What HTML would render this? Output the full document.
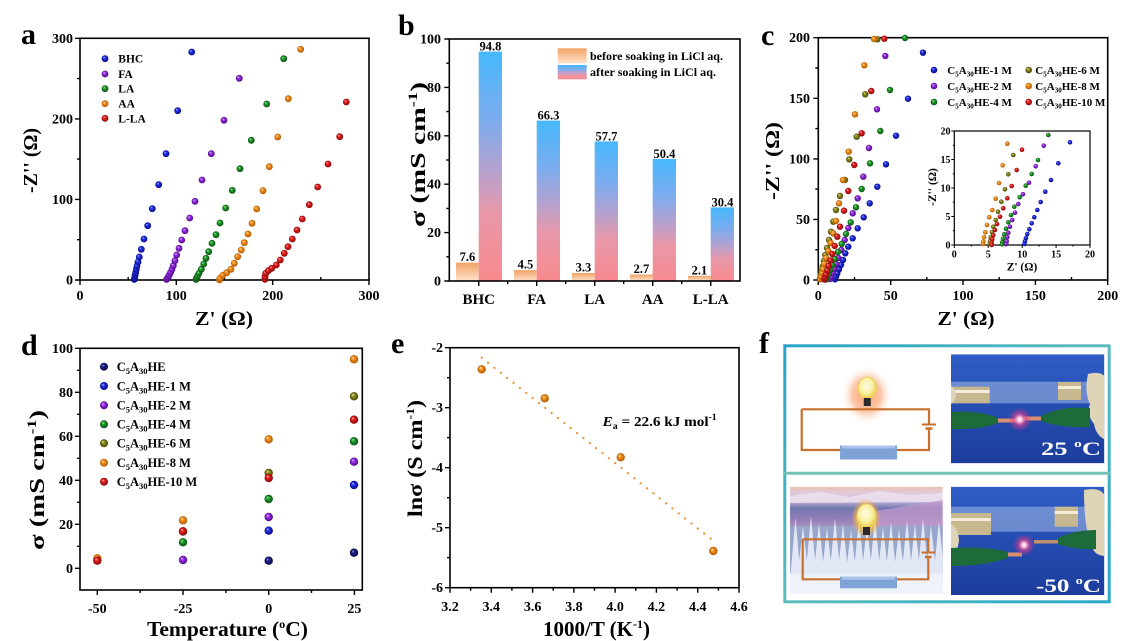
<!DOCTYPE html>
<html><head><meta charset="utf-8"><style>
html,body{margin:0;padding:0;background:#fff;}
svg{display:block;font-family:"Liberation Serif",serif;font-weight:bold;}
</style></head><body>
<svg width="1124" height="641" viewBox="0 0 1124 641" xmlns="http://www.w3.org/2000/svg">
<defs>
<radialGradient id="sNv" cx="0.5" cy="0.5" r="0.5" fx="0.35" fy="0.3"><stop offset="0" stop-color="#9a9ad8"/><stop offset="0.35" stop-color="#22228e"/><stop offset="1" stop-color="#08083e"/></radialGradient>
<radialGradient id="sB" cx="0.5" cy="0.5" r="0.5" fx="0.35" fy="0.3"><stop offset="0" stop-color="#c0c6ff"/><stop offset="0.35" stop-color="#2032e6"/><stop offset="1" stop-color="#0a0a88"/></radialGradient>
<radialGradient id="sP" cx="0.5" cy="0.5" r="0.5" fx="0.35" fy="0.3"><stop offset="0" stop-color="#e6c4ff"/><stop offset="0.35" stop-color="#9c30e8"/><stop offset="1" stop-color="#4e0c8a"/></radialGradient>
<radialGradient id="sG" cx="0.5" cy="0.5" r="0.5" fx="0.35" fy="0.3"><stop offset="0" stop-color="#b8f2b8"/><stop offset="0.35" stop-color="#22a02c"/><stop offset="1" stop-color="#0a5010"/></radialGradient>
<radialGradient id="sO" cx="0.5" cy="0.5" r="0.5" fx="0.35" fy="0.3"><stop offset="0" stop-color="#ececa8"/><stop offset="0.35" stop-color="#8e8e20"/><stop offset="1" stop-color="#484808"/></radialGradient>
<radialGradient id="sOr" cx="0.5" cy="0.5" r="0.5" fx="0.35" fy="0.3"><stop offset="0" stop-color="#ffe6c0"/><stop offset="0.35" stop-color="#f59322"/><stop offset="1" stop-color="#b05800"/></radialGradient>
<radialGradient id="sR" cx="0.5" cy="0.5" r="0.5" fx="0.35" fy="0.3"><stop offset="0" stop-color="#ffc0b8"/><stop offset="0.35" stop-color="#e82222"/><stop offset="1" stop-color="#860808"/></radialGradient>
<linearGradient id="gBef" x1="0" y1="0" x2="0" y2="1"><stop offset="0" stop-color="#f2a266"/><stop offset="1" stop-color="#fde2ca"/></linearGradient>
<linearGradient id="gAft" x1="0" y1="0" x2="0" y2="1"><stop offset="0" stop-color="#46b8fc"/><stop offset="0.3" stop-color="#7cacee"/><stop offset="0.5" stop-color="#b0a2d2"/><stop offset="0.7" stop-color="#e898aa"/><stop offset="1" stop-color="#f88a8e"/></linearGradient>
<linearGradient id="frameG" x1="0" y1="0" x2="1" y2="1"><stop offset="0" stop-color="#26a4c6"/><stop offset="0.5" stop-color="#5cbcbc"/><stop offset="1" stop-color="#28a8c8"/></linearGradient>
<radialGradient id="glow"><stop offset="0" stop-color="#fba070"/><stop offset="0.55" stop-color="#fbb890" stop-opacity="0.8"/><stop offset="1" stop-color="#fff" stop-opacity="0"/></radialGradient>
<radialGradient id="glow2"><stop offset="0" stop-color="#ffe060"/><stop offset="0.6" stop-color="#f8c040" stop-opacity="0.8"/><stop offset="1" stop-color="#f8a040" stop-opacity="0"/></radialGradient>
<radialGradient id="bulbG" cx="0.45" cy="0.4" r="0.6"><stop offset="0" stop-color="#fffce8"/><stop offset="0.6" stop-color="#f8f0a0"/><stop offset="1" stop-color="#e8c840"/></radialGradient>
<linearGradient id="photoBlue" x1="0" y1="0" x2="0" y2="1"><stop offset="0" stop-color="#2f5ec6"/><stop offset="1" stop-color="#1c3c9c"/></linearGradient>
<radialGradient id="led"><stop offset="0" stop-color="#ffffff"/><stop offset="0.2" stop-color="#ffc0dc"/><stop offset="0.5" stop-color="#e84090" stop-opacity="0.6"/><stop offset="1" stop-color="#e03080" stop-opacity="0"/></radialGradient>
<linearGradient id="snowSky" x1="0" y1="0" x2="0" y2="1"><stop offset="0" stop-color="#e9c3b0"/><stop offset="0.06" stop-color="#e2cadc"/><stop offset="0.13" stop-color="#c8b8dc"/><stop offset="0.2" stop-color="#7078b0"/><stop offset="0.32" stop-color="#9a80b8"/><stop offset="0.42" stop-color="#b8a4cc"/><stop offset="0.55" stop-color="#a8b4d8"/><stop offset="0.85" stop-color="#d0d8ec"/><stop offset="1" stop-color="#eef2fa"/></linearGradient>
<clipPath id="cpSnow"><rect x="790" y="486.7" width="152.7" height="107.3"/></clipPath>
<clipPath id="cpP1"><rect x="951" y="354.3" width="153.3" height="109"/></clipPath>
<clipPath id="cpP2"><rect x="951" y="486.7" width="153.3" height="108.3"/></clipPath>
</defs>
<rect width="1124" height="641" fill="#fff"/>

<!-- ================= PANEL A ================= -->
<text x="21" y="44" font-size="30">a</text>
<rect x="80" y="38.3" width="289" height="241.7" fill="none" stroke="#000" stroke-width="1.6"/>
<path d="M75 280H80M75 199.4H80M75 118.9H80M75 38.3H80M77 239.7H80M77 159.1H80M77 78.6H80M80 280V285M176.3 280V285M272.7 280V285M369 280V285M128.2 280V277M224.5 280V277M320.8 280V277" stroke="#000" stroke-width="1.4"/>
<g font-size="14" text-anchor="end"><text x="73" y="284.5">0</text><text x="73" y="204">100</text><text x="73" y="123.5">200</text><text x="73" y="43">300</text></g>
<g font-size="14" text-anchor="middle"><text x="80" y="300">0</text><text x="176.3" y="300">100</text><text x="272.7" y="300">200</text><text x="369" y="300">300</text></g>
<text x="224" y="325" font-size="20" text-anchor="middle" textLength="58" lengthAdjust="spacingAndGlyphs">Z' (Ω)</text>
<text transform="translate(37,160.5) rotate(-90)" font-size="20" text-anchor="middle" textLength="65" lengthAdjust="spacingAndGlyphs">-Z'' (Ω)</text>
<g font-size="11.5"><text x="118.3" y="62.7">BHC</text><text x="118.3" y="78">FA</text><text x="118.3" y="92.7">LA</text><text x="118.3" y="107.7">AA</text><text x="118.3" y="122.3">L-LA</text></g>
<circle cx="105" cy="58.7" r="3.4" fill="url(#sB)"/><circle cx="105" cy="74" r="3.4" fill="url(#sP)"/><circle cx="105" cy="88.7" r="3.4" fill="url(#sG)"/><circle cx="105" cy="103.7" r="3.4" fill="url(#sOr)"/><circle cx="105" cy="118.3" r="3.4" fill="url(#sR)"/>
<g fill="url(#sB)">
<circle cx="134.3" cy="279.5" r="3.4"/><circle cx="134.5" cy="278.5" r="3.4"/><circle cx="134.8" cy="277" r="3.4"/><circle cx="135.2" cy="275" r="3.4"/><circle cx="135.7" cy="272.5" r="3.4"/><circle cx="136.3" cy="269.5" r="3.4"/><circle cx="137" cy="266" r="3.4"/><circle cx="138" cy="262" r="3.4"/><circle cx="139.3" cy="257" r="3.4"/><circle cx="141.3" cy="249.3" r="3.4"/><circle cx="144" cy="239" r="3.4"/><circle cx="147.7" cy="225.7" r="3.4"/><circle cx="152.3" cy="208.7" r="3.4"/><circle cx="158.7" cy="184.7" r="3.4"/><circle cx="166" cy="153.7" r="3.4"/><circle cx="177.7" cy="110.7" r="3.4"/><circle cx="191.7" cy="52" r="3.4"/>
</g>
<g fill="url(#sP)">
<circle cx="166.5" cy="279.5" r="3.4"/><circle cx="167.3" cy="278.5" r="3.4"/><circle cx="168.2" cy="277" r="3.4"/><circle cx="169.2" cy="275" r="3.4"/><circle cx="170.5" cy="272.5" r="3.4"/><circle cx="172" cy="269.3" r="3.4"/><circle cx="173.3" cy="265.7" r="3.4"/><circle cx="175" cy="260.7" r="3.4"/><circle cx="176.7" cy="255" r="3.4"/><circle cx="179" cy="248.3" r="3.4"/><circle cx="181.7" cy="240" r="3.4"/><circle cx="185" cy="230.7" r="3.4"/><circle cx="189.7" cy="218" r="3.4"/><circle cx="195" cy="201.3" r="3.4"/><circle cx="202" cy="180" r="3.4"/><circle cx="211.3" cy="153.7" r="3.4"/><circle cx="224" cy="120.3" r="3.4"/><circle cx="239.3" cy="78.3" r="3.4"/>
</g>
<g fill="url(#sG)">
<circle cx="196" cy="279.5" r="3.4"/><circle cx="196.5" cy="278" r="3.4"/><circle cx="197.5" cy="276" r="3.4"/><circle cx="199" cy="273.3" r="3.4"/><circle cx="201.3" cy="269.3" r="3.4"/><circle cx="203.7" cy="264" r="3.4"/><circle cx="206" cy="258.3" r="3.4"/><circle cx="208.7" cy="251.7" r="3.4"/><circle cx="212" cy="243.3" r="3.4"/><circle cx="216" cy="234.7" r="3.4"/><circle cx="220" cy="223" r="3.4"/><circle cx="225.7" cy="208" r="3.4"/><circle cx="232.3" cy="190.3" r="3.4"/><circle cx="240" cy="168.7" r="3.4"/><circle cx="251.3" cy="140.3" r="3.4"/><circle cx="266.7" cy="104" r="3.4"/><circle cx="283.7" cy="58.7" r="3.4"/>
</g>
<g fill="url(#sOr)">
<circle cx="219.5" cy="280" r="3.4"/><circle cx="220" cy="278.3" r="3.4"/><circle cx="222.7" cy="275.3" r="3.4"/><circle cx="226.7" cy="272.7" r="3.4"/><circle cx="231" cy="269.3" r="3.4"/><circle cx="234.3" cy="263.3" r="3.4"/><circle cx="237.7" cy="256.7" r="3.4"/><circle cx="241.3" cy="250" r="3.4"/><circle cx="244.3" cy="242.7" r="3.4"/><circle cx="248" cy="234" r="3.4"/><circle cx="252" cy="223.3" r="3.4"/><circle cx="256.7" cy="209" r="3.4"/><circle cx="263" cy="190.7" r="3.4"/><circle cx="269.3" cy="166.7" r="3.4"/><circle cx="277.7" cy="137" r="3.4"/><circle cx="288.3" cy="98.7" r="3.4"/><circle cx="300.7" cy="49.3" r="3.4"/>
</g>
<g fill="url(#sR)">
<circle cx="265" cy="279.3" r="3.4"/><circle cx="265" cy="276.7" r="3.4"/><circle cx="265.7" cy="273.3" r="3.4"/><circle cx="268.3" cy="270.7" r="3.4"/><circle cx="271.7" cy="268.3" r="3.4"/><circle cx="276.3" cy="265" r="3.4"/><circle cx="280.3" cy="260" r="3.4"/><circle cx="284.3" cy="253.3" r="3.4"/><circle cx="288" cy="246.7" r="3.4"/><circle cx="292.3" cy="239" r="3.4"/><circle cx="297" cy="230" r="3.4"/><circle cx="302.3" cy="219" r="3.4"/><circle cx="309.3" cy="204.7" r="3.4"/><circle cx="317.7" cy="187" r="3.4"/><circle cx="328" cy="164" r="3.4"/><circle cx="339.7" cy="136.7" r="3.4"/><circle cx="346.3" cy="102" r="3.4"/>
</g>

<!-- ================= PANEL B ================= -->
<text x="398" y="35" font-size="30">b</text>
<g>
<rect x="456" y="262.6" width="22.7" height="18.4" fill="url(#gBef)"/>
<rect x="514" y="270.1" width="22.7" height="10.9" fill="url(#gBef)"/>
<rect x="572" y="273" width="22.7" height="8" fill="url(#gBef)"/>
<rect x="630" y="274.5" width="22.7" height="6.5" fill="url(#gBef)"/>
<rect x="688" y="275.9" width="22.7" height="5.1" fill="url(#gBef)"/>
<rect x="478.7" y="51.6" width="23.3" height="229.4" fill="url(#gAft)"/>
<rect x="536.7" y="120.6" width="23.3" height="160.4" fill="url(#gAft)"/>
<rect x="594.7" y="141.4" width="23.3" height="139.6" fill="url(#gAft)"/>
<rect x="652.7" y="159" width="23.3" height="122" fill="url(#gAft)"/>
<rect x="710.7" y="207.4" width="23.3" height="73.6" fill="url(#gAft)"/>
</g>
<g font-size="12.5" text-anchor="middle">
<text x="467.4" y="261">7.6</text><text x="525.4" y="268.6">4.5</text><text x="583.4" y="271.5">3.3</text><text x="641.4" y="273">2.7</text><text x="699.4" y="274.4">2.1</text>
<text x="490.4" y="50.5">94.8</text><text x="548.4" y="119.5">66.3</text><text x="606.4" y="140.3">57.7</text><text x="664.4" y="157.9">50.4</text><text x="722.4" y="206.3">30.4</text>
</g>
<rect x="449.3" y="39" width="290.7" height="242" fill="none" stroke="#000" stroke-width="1.6"/>
<path d="M444.3 281H449.3M444.3 232.6H449.3M444.3 184.2H449.3M444.3 135.8H449.3M444.3 87.4H449.3M444.3 39H449.3M446.3 256.8H449.3M446.3 208.4H449.3M446.3 160H449.3M446.3 111.6H449.3M446.3 63.2H449.3M478.7 281V286M536.7 281V286M594.7 281V286M652.7 281V286M710.7 281V286M507.7 281V284M565.7 281V284M623.7 281V284M681.7 281V284" stroke="#000" stroke-width="1.4"/>
<g font-size="14" text-anchor="end"><text x="441" y="285.5">0</text><text x="441" y="237.1">20</text><text x="441" y="188.7">40</text><text x="441" y="140.3">60</text><text x="441" y="91.9">80</text><text x="441" y="43.5">100</text></g>
<g font-size="15" text-anchor="middle"><text x="478.7" y="304">BHC</text><text x="536.7" y="304">FA</text><text x="594.7" y="304">LA</text><text x="652.7" y="304">AA</text><text x="710.7" y="304">L-LA</text></g>
<text transform="translate(425,154.5) rotate(-90)" font-size="21" text-anchor="middle" textLength="145" lengthAdjust="spacingAndGlyphs">σ (mS cm<tspan font-size="13" dy="-8">-1</tspan><tspan dy="8">)</tspan></text>
<rect x="557.7" y="48.3" width="29" height="15" fill="url(#gBef)"/>
<rect x="557.7" y="65" width="29" height="14.3" fill="url(#gAft)"/>
<g font-size="12"><text x="590" y="60" textLength="133" lengthAdjust="spacingAndGlyphs">before soaking in LiCl aq.</text><text x="590" y="76" textLength="126" lengthAdjust="spacingAndGlyphs">after soaking in LiCl aq.</text></g>

<!-- ================= PANEL C ================= -->
<text x="761" y="45" font-size="30">c</text>
<rect x="818.3" y="37.7" width="289.4" height="242.3" fill="none" stroke="#000" stroke-width="1.6"/>
<path d="M813.3 280H818.3M813.3 219.4H818.3M813.3 158.9H818.3M813.3 98.3H818.3M813.3 37.7H818.3M815.3 249.7H818.3M815.3 189.1H818.3M815.3 128.6H818.3M815.3 68H818.3M818.3 280V285M890.7 280V285M963 280V285M1035.4 280V285M1107.7 280V285M854.5 280V277M926.8 280V277M999.2 280V277M1071.5 280V277" stroke="#000" stroke-width="1.4"/>
<g font-size="14" text-anchor="end"><text x="810" y="284.5">0</text><text x="810" y="223.9">50</text><text x="810" y="163.4">100</text><text x="810" y="102.8">150</text><text x="810" y="42.2">200</text></g>
<g font-size="14" text-anchor="middle"><text x="818.3" y="300">0</text><text x="890.7" y="300">50</text><text x="963" y="300">100</text><text x="1035.4" y="300">150</text><text x="1107.7" y="300">200</text></g>
<text x="966" y="325" font-size="20" text-anchor="middle" textLength="57" lengthAdjust="spacingAndGlyphs">Z' (Ω)</text>
<text transform="translate(779,161) rotate(-90)" font-size="20" text-anchor="middle" textLength="78" lengthAdjust="spacingAndGlyphs">-Z'' (Ω)</text>
<g fill="url(#sB)">
<circle cx="835" cy="279.3" r="3.2"/><circle cx="836" cy="276.7" r="3.2"/><circle cx="837.3" cy="273.3" r="3.2"/><circle cx="839" cy="269.3" r="3.2"/><circle cx="841" cy="265" r="3.2"/><circle cx="843" cy="260" r="3.2"/><circle cx="845.3" cy="253.3" r="3.2"/><circle cx="848.3" cy="246.7" r="3.2"/><circle cx="852.7" cy="238.3" r="3.2"/><circle cx="857.7" cy="228.3" r="3.2"/><circle cx="863.7" cy="217.3" r="3.2"/><circle cx="869.7" cy="203.3" r="3.2"/><circle cx="877.3" cy="186.7" r="3.2"/><circle cx="886" cy="164.3" r="3.2"/><circle cx="896" cy="135.7" r="3.2"/><circle cx="908" cy="98.7" r="3.2"/><circle cx="923" cy="52.7" r="3.2"/>
</g>
<g fill="url(#sP)">
<circle cx="830" cy="279" r="3.2"/><circle cx="831" cy="276.5" r="3.2"/><circle cx="832.3" cy="273" r="3.2"/><circle cx="834" cy="269" r="3.2"/><circle cx="836" cy="264" r="3.2"/><circle cx="838.3" cy="258" r="3.2"/><circle cx="841.3" cy="250" r="3.2"/><circle cx="844.7" cy="240" r="3.2"/><circle cx="848.3" cy="228" r="3.2"/><circle cx="852.7" cy="213.3" r="3.2"/><circle cx="857.7" cy="198.3" r="3.2"/><circle cx="863.3" cy="176.7" r="3.2"/><circle cx="869" cy="148" r="3.2"/><circle cx="877" cy="109.3" r="3.2"/><circle cx="885.3" cy="56" r="3.2"/>
</g>
<g fill="url(#sG)">
<circle cx="826" cy="279.5" r="3.2"/><circle cx="827" cy="277" r="3.2"/><circle cx="828.3" cy="274" r="3.2"/><circle cx="830" cy="270" r="3.2"/><circle cx="832.3" cy="265" r="3.2"/><circle cx="835" cy="259" r="3.2"/><circle cx="838" cy="252" r="3.2"/><circle cx="841.7" cy="244" r="3.2"/><circle cx="846" cy="234" r="3.2"/><circle cx="850.7" cy="222.3" r="3.2"/><circle cx="856" cy="207.3" r="3.2"/><circle cx="861.7" cy="189" r="3.2"/><circle cx="870" cy="163.3" r="3.2"/><circle cx="880.3" cy="131" r="3.2"/><circle cx="890" cy="90" r="3.2"/><circle cx="905" cy="38" r="3.2"/>
</g>
<g fill="url(#sO)">
<circle cx="820" cy="278.5" r="3.2"/><circle cx="820.7" cy="275" r="3.2"/><circle cx="821.5" cy="271" r="3.2"/><circle cx="822.7" cy="266.5" r="3.2"/><circle cx="824" cy="261" r="3.2"/><circle cx="825.3" cy="255" r="3.2"/><circle cx="827" cy="248" r="3.2"/><circle cx="829" cy="240" r="3.2"/><circle cx="831" cy="231.7" r="3.2"/><circle cx="833.3" cy="221.7" r="3.2"/><circle cx="836" cy="210" r="3.2"/><circle cx="840" cy="196" r="3.2"/><circle cx="845" cy="180" r="3.2"/><circle cx="849.3" cy="159.3" r="3.2"/><circle cx="856.7" cy="136.7" r="3.2"/><circle cx="865.3" cy="94.3" r="3.2"/><circle cx="877.3" cy="39.3" r="3.2"/>
</g>
<g fill="url(#sOr)">
<circle cx="820.3" cy="279.3" r="3.2"/><circle cx="821" cy="276.5" r="3.2"/><circle cx="822" cy="273" r="3.2"/><circle cx="823" cy="269" r="3.2"/><circle cx="824.3" cy="264" r="3.2"/><circle cx="826" cy="258" r="3.2"/><circle cx="828.3" cy="251" r="3.2"/><circle cx="830.7" cy="243" r="3.2"/><circle cx="833.3" cy="233.3" r="3.2"/><circle cx="836" cy="221" r="3.2"/><circle cx="839" cy="203.3" r="3.2"/><circle cx="843" cy="180" r="3.2"/><circle cx="848.7" cy="151.7" r="3.2"/><circle cx="855" cy="114.3" r="3.2"/><circle cx="864.3" cy="65.3" r="3.2"/><circle cx="874" cy="39" r="3.2"/>
</g>
<g fill="url(#sR)">
<circle cx="824.3" cy="279.5" r="3.2"/><circle cx="825" cy="277.5" r="3.2"/><circle cx="826" cy="274.5" r="3.2"/><circle cx="827.3" cy="270.5" r="3.2"/><circle cx="828.7" cy="266" r="3.2"/><circle cx="830.3" cy="260.5" r="3.2"/><circle cx="832.3" cy="254" r="3.2"/><circle cx="834.7" cy="246" r="3.2"/><circle cx="837.3" cy="236.7" r="3.2"/><circle cx="840" cy="226.7" r="3.2"/><circle cx="844" cy="210.7" r="3.2"/><circle cx="848.3" cy="191" r="3.2"/><circle cx="854.3" cy="165" r="3.2"/><circle cx="861.7" cy="133.3" r="3.2"/><circle cx="871.3" cy="91" r="3.2"/><circle cx="884.3" cy="38.7" r="3.2"/>
</g>
<!-- legend c -->
<circle cx="934" cy="70" r="3.3" fill="url(#sB)"/><circle cx="934" cy="86" r="3.3" fill="url(#sP)"/><circle cx="934" cy="102" r="3.3" fill="url(#sG)"/>
<circle cx="1028.7" cy="70" r="3.3" fill="url(#sO)"/><circle cx="1028.7" cy="86" r="3.3" fill="url(#sOr)"/><circle cx="1028.7" cy="102" r="3.3" fill="url(#sR)"/>
<g font-size="11">
<text x="947.3" y="74">C<tspan font-size="7" dy="2.5">5</tspan><tspan dy="-2.5">A</tspan><tspan font-size="7" dy="2.5">30</tspan><tspan dy="-2.5">HE-1 M</tspan></text>
<text x="947.3" y="90">C<tspan font-size="7" dy="2.5">5</tspan><tspan dy="-2.5">A</tspan><tspan font-size="7" dy="2.5">30</tspan><tspan dy="-2.5">HE-2 M</tspan></text>
<text x="947.3" y="106">C<tspan font-size="7" dy="2.5">5</tspan><tspan dy="-2.5">A</tspan><tspan font-size="7" dy="2.5">30</tspan><tspan dy="-2.5">HE-4 M</tspan></text>
<text x="1035.3" y="74">C<tspan font-size="7" dy="2.5">5</tspan><tspan dy="-2.5">A</tspan><tspan font-size="7" dy="2.5">30</tspan><tspan dy="-2.5">HE-6 M</tspan></text>
<text x="1035.3" y="90">C<tspan font-size="7" dy="2.5">5</tspan><tspan dy="-2.5">A</tspan><tspan font-size="7" dy="2.5">30</tspan><tspan dy="-2.5">HE-8 M</tspan></text>
<text x="1035.3" y="106">C<tspan font-size="7" dy="2.5">5</tspan><tspan dy="-2.5">A</tspan><tspan font-size="7" dy="2.5">30</tspan><tspan dy="-2.5">HE-10 M</tspan></text>
</g>
<!-- inset -->
<rect x="954.3" y="131" width="135.7" height="114" fill="#fff" stroke="#000" stroke-width="1.2"/>
<path d="M951.3 245H954.3M951.3 216.5H954.3M951.3 188H954.3M951.3 159.5H954.3M951.3 131H954.3M952.8 230.75H954.3M952.8 202.25H954.3M952.8 173.75H954.3M952.8 145.25H954.3M954.3 245V248M988.2 245V248M1022.2 245V248M1056.1 245V248M1090 245V248M971.3 245V246.5M1005.2 245V246.5M1039.1 245V246.5M1073 245V246.5" stroke="#000" stroke-width="1"/>
<g font-size="10" text-anchor="end"><text x="950.5" y="248.5">0</text><text x="950.5" y="220">5</text><text x="950.5" y="191.5">10</text><text x="950.5" y="163">15</text><text x="950.5" y="134.5">20</text></g>
<g font-size="10" text-anchor="middle"><text x="954.3" y="257.5">0</text><text x="988.2" y="257.5">5</text><text x="1022.2" y="257.5">10</text><text x="1056.1" y="257.5">15</text><text x="1090" y="257.5">20</text></g>
<text x="1022" y="270.5" font-size="11.5" text-anchor="middle">Z' (Ω)</text>
<text transform="translate(936,187) rotate(-90)" font-size="11.5" text-anchor="middle">-Z'' (Ω)</text>
<g fill="url(#sB)"><circle cx="1070" cy="142.3" r="2.3"/><circle cx="1058.3" cy="163.3" r="2.3"/><circle cx="1051" cy="180" r="2.3"/><circle cx="1045.3" cy="191.7" r="2.3"/><circle cx="1040.7" cy="202" r="2.3"/><circle cx="1037.3" cy="210" r="2.3"/><circle cx="1034.3" cy="217.3" r="2.3"/><circle cx="1031.7" cy="223.3" r="2.3"/><circle cx="1029.3" cy="229.3" r="2.3"/><circle cx="1027.3" cy="234" r="2.3"/><circle cx="1026" cy="238" r="2.3"/><circle cx="1025" cy="241.3" r="2.3"/><circle cx="1024.3" cy="244" r="2.3"/></g>
<g fill="url(#sP)"><circle cx="1043.7" cy="145.7" r="2.3"/><circle cx="1035.7" cy="166.3" r="2.3"/><circle cx="1029" cy="182.7" r="2.3"/><circle cx="1023" cy="194.3" r="2.3"/><circle cx="1018.3" cy="204" r="2.3"/><circle cx="1015" cy="212.7" r="2.3"/><circle cx="1012.3" cy="220" r="2.3"/><circle cx="1010" cy="226.7" r="2.3"/><circle cx="1008.3" cy="232.7" r="2.3"/><circle cx="1007.3" cy="237.3" r="2.3"/><circle cx="1006.7" cy="241.3" r="2.3"/><circle cx="1006.3" cy="244" r="2.3"/></g>
<g fill="url(#sG)"><circle cx="1048.3" cy="135" r="2.3"/><circle cx="1038" cy="160" r="2.3"/><circle cx="1031.7" cy="174" r="2.3"/><circle cx="1025.7" cy="185.7" r="2.3"/><circle cx="1019.7" cy="197.3" r="2.3"/><circle cx="1014.3" cy="206.7" r="2.3"/><circle cx="1011" cy="215" r="2.3"/><circle cx="1008.3" cy="222.3" r="2.3"/><circle cx="1006" cy="228.7" r="2.3"/><circle cx="1004.3" cy="234.3" r="2.3"/><circle cx="1003" cy="238.7" r="2.3"/><circle cx="1002.3" cy="242.3" r="2.3"/><circle cx="1002" cy="244.3" r="2.3"/></g>
<g fill="url(#sO)"><circle cx="1013.3" cy="155" r="2.3"/><circle cx="1008.3" cy="174.3" r="2.3"/><circle cx="1005" cy="189.3" r="2.3"/><circle cx="1001.3" cy="201.7" r="2.3"/><circle cx="998" cy="211.7" r="2.3"/><circle cx="995.7" cy="220" r="2.3"/><circle cx="993.3" cy="226.7" r="2.3"/><circle cx="992" cy="232.3" r="2.3"/><circle cx="990.7" cy="237.3" r="2.3"/><circle cx="990" cy="241.3" r="2.3"/><circle cx="989.7" cy="244" r="2.3"/></g>
<g fill="url(#sOr)"><circle cx="1007.3" cy="143.7" r="2.3"/><circle cx="1002.7" cy="165.3" r="2.3"/><circle cx="999" cy="183" r="2.3"/><circle cx="995.7" cy="198.7" r="2.3"/><circle cx="992.3" cy="210" r="2.3"/><circle cx="989.3" cy="217.3" r="2.3"/><circle cx="987" cy="225" r="2.3"/><circle cx="985.3" cy="232.3" r="2.3"/><circle cx="984" cy="237.3" r="2.3"/><circle cx="983.3" cy="241.7" r="2.3"/><circle cx="983" cy="244" r="2.3"/></g>
<g fill="url(#sR)"><circle cx="1022" cy="149.7" r="2.3"/><circle cx="1016.7" cy="170" r="2.3"/><circle cx="1011.7" cy="186" r="2.3"/><circle cx="1007.3" cy="198.3" r="2.3"/><circle cx="1003.3" cy="208.3" r="2.3"/><circle cx="1000" cy="216.7" r="2.3"/><circle cx="997" cy="224" r="2.3"/><circle cx="995" cy="230" r="2.3"/><circle cx="993.3" cy="235.3" r="2.3"/><circle cx="992.3" cy="239.3" r="2.3"/><circle cx="991.7" cy="242.7" r="2.3"/><circle cx="991.7" cy="245" r="2.3"/></g>

<!-- ================= PANEL D ================= -->
<text x="21" y="355" font-size="30">d</text>
<rect x="80" y="348.3" width="282.3" height="241.7" fill="none" stroke="#000" stroke-width="1.6"/>
<path d="M75 568.3H80M75 524.3H80M75 480.3H80M75 436.3H80M75 392.3H80M75 348.3H80M77 546.3H80M77 502.3H80M77 458.3H80M77 414.3H80M77 370.3H80M97.3 590V595M183 590V595M268.7 590V595M354.4 590V595M140.2 590V593M225.9 590V593M311.5 590V593" stroke="#000" stroke-width="1.4"/>
<g font-size="14" text-anchor="end"><text x="73" y="572.8">0</text><text x="73" y="528.8">20</text><text x="73" y="484.8">40</text><text x="73" y="440.8">60</text><text x="73" y="396.8">80</text><text x="73" y="352.8">100</text></g>
<g font-size="14" text-anchor="middle"><text x="97.3" y="613">-50</text><text x="183" y="613">-25</text><text x="268.7" y="613">0</text><text x="354.4" y="613">25</text></g>
<text x="227.5" y="636" font-size="21" text-anchor="middle" textLength="161" lengthAdjust="spacingAndGlyphs">Temperature (<tspan font-size="12" dy="-8">o</tspan><tspan dy="8">C)</tspan></text>
<text transform="translate(44,480) rotate(-90)" font-size="21" text-anchor="middle" textLength="140" lengthAdjust="spacingAndGlyphs">σ (mS cm<tspan font-size="13" dy="-8">-1</tspan><tspan dy="8">)</tspan></text>
<g font-size="12.5">
<text x="116.7" y="371">C<tspan font-size="8.5" dy="3">5</tspan><tspan dy="-3">A</tspan><tspan font-size="8.5" dy="3">30</tspan><tspan dy="-3">HE</tspan></text>
<text x="116.7" y="390.3">C<tspan font-size="8.5" dy="3">5</tspan><tspan dy="-3">A</tspan><tspan font-size="8.5" dy="3">30</tspan><tspan dy="-3">HE-1 M</tspan></text>
<text x="116.7" y="409.6">C<tspan font-size="8.5" dy="3">5</tspan><tspan dy="-3">A</tspan><tspan font-size="8.5" dy="3">30</tspan><tspan dy="-3">HE-2 M</tspan></text>
<text x="116.7" y="428.6">C<tspan font-size="8.5" dy="3">5</tspan><tspan dy="-3">A</tspan><tspan font-size="8.5" dy="3">30</tspan><tspan dy="-3">HE-4 M</tspan></text>
<text x="116.7" y="447.6">C<tspan font-size="8.5" dy="3">5</tspan><tspan dy="-3">A</tspan><tspan font-size="8.5" dy="3">30</tspan><tspan dy="-3">HE-6 M</tspan></text>
<text x="116.7" y="467">C<tspan font-size="8.5" dy="3">5</tspan><tspan dy="-3">A</tspan><tspan font-size="8.5" dy="3">30</tspan><tspan dy="-3">HE-8 M</tspan></text>
<text x="116.7" y="486">C<tspan font-size="8.5" dy="3">5</tspan><tspan dy="-3">A</tspan><tspan font-size="8.5" dy="3">30</tspan><tspan dy="-3">HE-10 M</tspan></text>
</g>
<circle cx="104" cy="366.7" r="4" fill="url(#sNv)"/><circle cx="104" cy="386" r="4" fill="url(#sB)"/><circle cx="104" cy="405.3" r="4" fill="url(#sP)"/><circle cx="104" cy="424.3" r="4" fill="url(#sG)"/><circle cx="104" cy="443.3" r="4" fill="url(#sO)"/><circle cx="104" cy="462.7" r="4" fill="url(#sOr)"/><circle cx="104" cy="481.7" r="4" fill="url(#sR)"/>
<circle cx="97.3" cy="558.3" r="4.2" fill="url(#sOr)"/><circle cx="97.3" cy="560.7" r="4.2" fill="url(#sR)"/>
<circle cx="183" cy="531.5" r="4.2" fill="url(#sO)"/><circle cx="183" cy="560" r="4.2" fill="url(#sP)"/><circle cx="183" cy="542.3" r="4.2" fill="url(#sG)"/><circle cx="183" cy="520.3" r="4.2" fill="url(#sOr)"/><circle cx="183" cy="531.3" r="4.2" fill="url(#sR)"/>
<circle cx="268.7" cy="560.7" r="4.2" fill="url(#sNv)"/><circle cx="268.7" cy="530.7" r="4.2" fill="url(#sB)"/><circle cx="268.7" cy="517" r="4.2" fill="url(#sP)"/><circle cx="268.7" cy="499" r="4.2" fill="url(#sG)"/><circle cx="268.7" cy="473" r="4.2" fill="url(#sO)"/><circle cx="268.7" cy="439.3" r="4.2" fill="url(#sOr)"/><circle cx="268.7" cy="478" r="4.2" fill="url(#sR)"/>
<circle cx="354" cy="552.7" r="4.2" fill="url(#sNv)"/><circle cx="354" cy="485" r="4.2" fill="url(#sB)"/><circle cx="354" cy="461.7" r="4.2" fill="url(#sP)"/><circle cx="354" cy="441.3" r="4.2" fill="url(#sG)"/><circle cx="354" cy="396.3" r="4.2" fill="url(#sO)"/><circle cx="354" cy="359.3" r="4.2" fill="url(#sOr)"/><circle cx="354" cy="419.7" r="4.2" fill="url(#sR)"/>

<!-- ================= PANEL E ================= -->
<text x="391" y="353" font-size="30">e</text>
<rect x="450" y="347.7" width="289" height="240" fill="none" stroke="#000" stroke-width="1.6"/>
<path d="M445 347.7H450M445 407.7H450M445 467.7H450M445 527.7H450M445 587.7H450M447 377.7H450M447 437.7H450M447 497.7H450M447 557.7H450M450 587.7V592.7M491.3 587.7V592.7M532.6 587.7V592.7M573.9 587.7V592.7M615.1 587.7V592.7M656.4 587.7V592.7M697.7 587.7V592.7M739 587.7V592.7M470.6 587.7V590.7M511.9 587.7V590.7M553.2 587.7V590.7M594.5 587.7V590.7M635.8 587.7V590.7M677.1 587.7V590.7M718.4 587.7V590.7" stroke="#000" stroke-width="1.4"/>
<g font-size="14" text-anchor="end"><text x="443" y="352.2">-2</text><text x="443" y="412.2">-3</text><text x="443" y="472.2">-4</text><text x="443" y="532.2">-5</text><text x="443" y="592.2">-6</text></g>
<g font-size="14" text-anchor="middle"><text x="450" y="611">3.2</text><text x="491.3" y="611">3.4</text><text x="532.6" y="611">3.6</text><text x="573.9" y="611">3.8</text><text x="615.1" y="611">4.0</text><text x="656.4" y="611">4.2</text><text x="697.7" y="611">4.4</text><text x="739" y="611">4.6</text></g>
<text x="596.5" y="636" font-size="21" text-anchor="middle" textLength="107" lengthAdjust="spacingAndGlyphs">1000/T (K<tspan font-size="12" dy="-8">-1</tspan><tspan dy="8">)</tspan></text>
<text transform="translate(422,458.5) rotate(-90)" font-size="21" text-anchor="middle" textLength="117" lengthAdjust="spacingAndGlyphs">lnσ (S cm<tspan font-size="12" dy="-8">-1</tspan><tspan dy="8">)</tspan></text>
<line x1="481.7" y1="357.7" x2="713.3" y2="540.7" stroke="#e8943a" stroke-width="2.2" stroke-linecap="round" stroke-dasharray="0.1 8"/>
<g fill="url(#sOr)"><circle cx="481.7" cy="369.3" r="4.2"/><circle cx="544.7" cy="398.3" r="4.2"/><circle cx="620.7" cy="457.3" r="4.2"/><circle cx="713.3" cy="551" r="4.2"/></g>
<text x="602.7" y="426" font-size="14" textLength="114" lengthAdjust="spacingAndGlyphs"><tspan font-style="italic">E</tspan><tspan font-size="9" dy="3">a</tspan><tspan dy="-3"> = 22.6 kJ mol</tspan><tspan font-size="9" dy="-6">-1</tspan></text>

<!-- ================= PANEL F ================= -->
<text x="759" y="353" font-size="30">f</text>
<!-- top-left schematic -->
<ellipse cx="866.7" cy="395" rx="26" ry="30" fill="url(#glow)"/>
<path d="M801.7 409.3H929V424.5M929 428.5V450H896.7M840 450H801.7V409.3" fill="none" stroke="#c8702c" stroke-width="2.2"/>
<line x1="922" y1="424.5" x2="936" y2="424.5" stroke="#c8702c" stroke-width="2"/>
<line x1="925.5" y1="428.5" x2="932.5" y2="428.5" stroke="#c8702c" stroke-width="2.5"/>
<rect x="840" y="445.5" width="57" height="14" fill="#7fa3d6"/>
<rect x="842" y="445.5" width="53" height="3" fill="#a9c4ea"/>
<ellipse cx="867.3" cy="388" rx="9" ry="11" fill="url(#bulbG)" stroke="#f0d060" stroke-width="1"/>
<rect x="863.8" y="398" width="7" height="8" fill="#2a2a2a"/>
<!-- bottom-left snow scene -->
<g clip-path="url(#cpSnow)">
<rect x="790" y="486.7" width="152.7" height="107.3" fill="url(#snowSky)"/>
<path d="M790 496 L820 492 L850 497 L880 491 L910 495 L943 493 L943 502 L790 503Z" fill="#ece2ee" opacity="0.85"/>
<path d="M870 512 L943 500 L943 532 L870 532Z" fill="#c098cc" opacity="0.75"/>
<rect x="790" y="526" width="153" height="52" fill="#98a6cc"/>
<path d="M790 580L795.5 518L801 580ZM797 580L803 526L809 580ZM805 580L811 516L817 580ZM813 580L819 523L825 580ZM821 580L827 528L833 580ZM829 580L835 518L841 580ZM837 580L843 524L849 580ZM845 580L851 530L857 580ZM853 580L859 519L865 580ZM861 580L867 525L873 580ZM869 580L875 517L881 580ZM877 580L883 527L889 580ZM885 580L891 522L897 580ZM893 580L899 529L905 580ZM901 580L907 520L913 580ZM909 580L915 524L921 580ZM917 580L923 518L929 580ZM925 580L931 525L937 580ZM933 580L939 521L945 580Z" fill="#eef2fb" opacity="0.85"/>
<rect x="790" y="574" width="153" height="20" fill="#eef2fa"/>
</g>
<ellipse cx="866" cy="518" rx="15" ry="20" fill="url(#glow2)"/>
<path d="M802.7 539.3H928.3V552.5M928.3 557V579.3H896.7M840 579.3H802.7V539.3" fill="none" stroke="#c8702c" stroke-width="2.2"/>
<line x1="921.5" y1="552.5" x2="935" y2="552.5" stroke="#c8702c" stroke-width="2"/>
<line x1="925" y1="557" x2="931.5" y2="557" stroke="#c8702c" stroke-width="2.5"/>
<rect x="840" y="576.7" width="57" height="11.6" fill="#7fa3d6"/>
<rect x="842" y="576.7" width="53" height="3" fill="#a9c4ea"/>
<ellipse cx="866.5" cy="516" rx="9.5" ry="12" fill="url(#bulbG)" stroke="#f0d060" stroke-width="1"/>
<rect x="863" y="527" width="7" height="8" fill="#2a2a2a"/>
<!-- top-right photo -->
<g clip-path="url(#cpP1)">
<rect x="951" y="354.3" width="153.3" height="109" fill="url(#photoBlue)"/>
<rect x="951" y="381.7" width="153.3" height="21.6" fill="#b0c4e8" opacity="0.5"/>
<rect x="951" y="386.7" width="38.7" height="16.6" fill="#c8b890"/>
<rect x="951" y="390" width="38.7" height="3" fill="#f4ecd8"/>
<rect x="1058" y="382" width="23" height="18" fill="#c8b890"/>
<rect x="1058" y="386" width="23" height="3" fill="#f4ecd8"/>
<path d="M1088 374 Q1104 370 1106 380 L1106 440 Q1096 436 1094 424 Q1086 414 1090 404 Q1084 392 1088 374Z" fill="#e0d4b8"/>
<path d="M951 386 Q955 388 956 395 Q955 402 951 404Z" fill="#e0d4b8"/>
<path d="M951 412 Q980 410 998 418 L998 423 Q980 430 951 429Z" fill="#1d6b3a"/>
<rect x="998" y="418.5" width="18" height="4" fill="#d89070"/>
<path d="M1090 408 Q1060 406 1041 416 L1041 421 Q1060 428 1090 427Z" fill="#1d6b3a"/>
<rect x="1024" y="416.5" width="17" height="4" fill="#d89070"/>
<circle cx="1019.7" cy="419.5" r="12" fill="url(#led)"/>
<text x="1071" y="455" font-size="19" fill="#fff" text-anchor="middle" textLength="60" lengthAdjust="spacingAndGlyphs">25 <tspan font-size="11" dy="-8">o</tspan><tspan dy="8">C</tspan></text>
</g>
<!-- bottom-right photo -->
<g clip-path="url(#cpP2)">
<rect x="951" y="486.7" width="153.3" height="108.3" fill="url(#photoBlue)"/>
<rect x="951" y="506.7" width="153.3" height="25" fill="#b0c4e8" opacity="0.5"/>
<rect x="951" y="513" width="40" height="22" fill="#c8b890"/>
<rect x="951" y="518" width="40" height="3" fill="#f4ecd8"/>
<rect x="1054.7" y="506.7" width="23.3" height="20" fill="#c8b890"/>
<rect x="1054.7" y="511" width="23.3" height="3" fill="#f4ecd8"/>
<path d="M1084 490 Q1104 486 1106 500 L1106 556 Q1094 556 1092 546 Q1084 530 1084 490Z" fill="#e0d4b8"/>
<path d="M951 524 Q958 528 959 540 Q957 556 951 560Z" fill="#e0d4b8"/>
<path d="M951 548 Q985 546 1008 552 L1008 558 Q985 566 951 566Z" fill="#1d6b3a"/>
<rect x="1008" y="552.5" width="14" height="4" fill="#d89070"/>
<path d="M1096 530 Q1075 530 1058 538 L1058 544 Q1075 550 1096 549Z" fill="#1d6b3a"/>
<rect x="1034" y="540" width="24" height="3.5" fill="#c09070"/>
<circle cx="1024" cy="545" r="11" fill="url(#led)"/>
<text x="1068.5" y="592" font-size="19" fill="#fff" text-anchor="middle" textLength="65" lengthAdjust="spacingAndGlyphs">-50 <tspan font-size="11" dy="-8">o</tspan><tspan dy="8">C</tspan></text>
</g>
<!-- frame -->
<rect x="784.8" y="345.8" width="324.4" height="256" fill="none" stroke="url(#frameG)" stroke-width="3"/>
<line x1="783.3" y1="473.3" x2="1110.7" y2="473.3" stroke="#72c4b4" stroke-width="3"/>
</svg>
</body></html>
